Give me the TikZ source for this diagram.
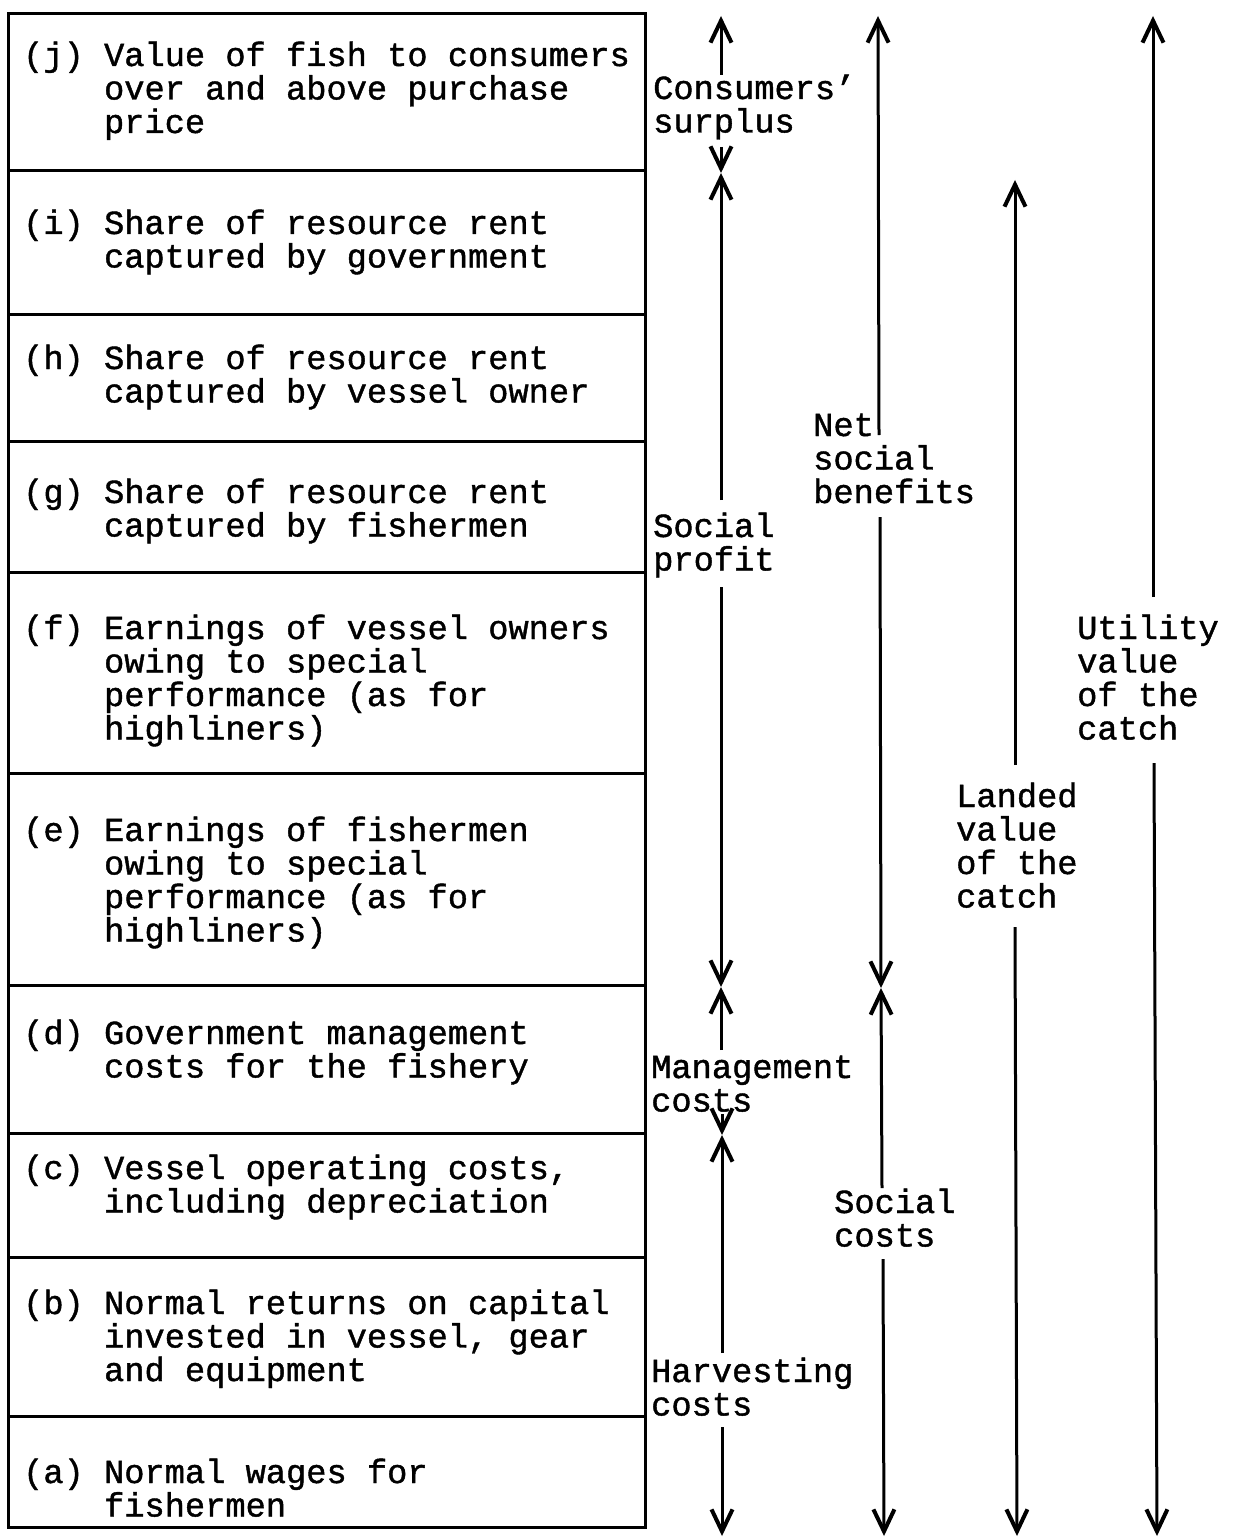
\documentclass[tikz,border=0pt]{standalone}
\usepackage{fontspec}
\setmainfont{Liberation Mono}[FakeBold=1.2]
\usetikzlibrary{arrows.meta}
\newcommand\tfont{\fontsize{33.7pt}{33.5pt}\selectfont}
\newcommand\ind{\hspace*{2.4em}}
\tikzset{
  txt/.style={anchor=base west, inner sep=0pt, align=left, font=\tfont},
  frame/.style={line width=3pt},
  arr/.style={line width=3pt, -{Straight Barb[length=22pt,width=21pt,line width=4pt]}}
}
\begin{document}
\begin{tikzpicture}[x=1pt,y=-1pt]
\useasboundingbox (0,0) rectangle (1232,1538);
% frame and dividers
\draw[frame] (8,14) rectangle (645,1527);
\foreach \yy in {171,314,441,572,773,985,1133,1257,1416}
  \draw[frame] (8,\yy) -- (645,\yy);
% left items (anchor = baseline of last line)
\node[txt] (j) at (23,133) {(j) Value of fish to consumers\\\ind over and above purchase\\\ind price};
\node[txt] (i) at (23,267.5) {(i) Share of resource rent\\\ind captured by government};
\node[txt] (h) at (23,402.5) {(h) Share of resource rent\\\ind captured by vessel owner};
\node[txt] (g) at (23,536.5) {(g) Share of resource rent\\\ind captured by fishermen};
\node[txt] (f) at (23,739.5) {(f) Earnings of vessel owners\\\ind owing to special\\\ind performance (as for\\\ind highliners)};
\node[txt] (e) at (23,941.5) {(e) Earnings of fishermen\\\ind owing to special\\\ind performance (as for\\\ind highliners)};
\node[txt] (d) at (23,1077.5) {(d) Government management\\\ind costs for the fishery};
\node[txt] (c) at (23,1212.5) {(c) Vessel operating costs,\\\ind including depreciation};
\node[txt] (b) at (23,1381) {(b) Normal returns on capital\\\ind invested in vessel, gear\\\ind and equipment};
\node[txt] (a) at (23,1516.5) {(a) Normal wages for\\\ind fishermen};
% right labels
\node[txt] (cs) at (653,132.5) {Consumers'\\surplus};
\node[txt] (sp) at (653,570.5) {Social\\profit};
\node[txt] (mc) at (651,1111.5) {Management\\costs};
\node[txt] (hc) at (651,1415.5) {Harvesting\\costs};
\node[txt] (nsb) at (813,503) {Net\\social\\benefits};
\node[txt] (sc) at (834,1246.5) {Social\\costs};
\node[txt] (lv) at (956,907.5) {Landed\\value\\of the\\catch};
\node[txt] (uv) at (1077,739.5) {Utility\\value\\of the\\catch};
% coordinates column 1
\coordinate (c1top) at (721,16);
\coordinate (c1x1) at (721,173);
\coordinate (c1x2) at (721,987);
\coordinate (c1x3) at (722,1135);
\coordinate (c1bot) at (722,1536);
\coordinate (cs1) at (721,75);
\coordinate (cs2) at (721,147);
\coordinate (sp1) at (721,500);
\coordinate (sp2) at (721,587);
\coordinate (mc1) at (721,1050);
\coordinate (mc2) at (722,1114);
\coordinate (hc1) at (722,1353);
\coordinate (hc2) at (722,1427);
% column 2
\coordinate (c2top) at (878,16);
\coordinate (c2x) at (881,988);
\coordinate (c2bot) at (884,1536);
\coordinate (nsb1) at (879,435);
\coordinate (nsb2) at (880,517);
\coordinate (sc1) at (882,1188);
\coordinate (sc2) at (883,1259);
% column 3
\coordinate (c3top) at (1015,180);
\coordinate (c3bot) at (1017,1536);
\coordinate (lv1) at (1015,765);
\coordinate (lv2) at (1015,927);
% column 4
\coordinate (c4top) at (1153,16);
\coordinate (c4bot) at (1157,1536);
\coordinate (uv1) at (1153,597);
\coordinate (uv2) at (1154,763);
% arrows
\draw[arr] (cs1) -- (c1top);
\draw[arr] (cs2) -- (c1x1);
\draw[arr] (sp1) -- (c1x1);
\draw[arr] (sp2) -- (c1x2);
\draw[arr] (mc1) -- (c1x2);
\draw[arr] (mc2) -- (c1x3);
\draw[arr] (hc1) -- (c1x3);
\draw[arr] (hc2) -- (c1bot);
\draw[arr] (nsb1) -- (c2top);
\draw[arr] (nsb2) -- (c2x);
\draw[arr] (sc1) -- (c2x);
\draw[arr] (sc2) -- (c2bot);
\draw[arr] (lv1) -- (c3top);
\draw[arr] (lv2) -- (c3bot);
\draw[arr] (uv1) -- (c4top);
\draw[arr] (uv2) -- (c4bot);
\end{tikzpicture}
\end{document}
